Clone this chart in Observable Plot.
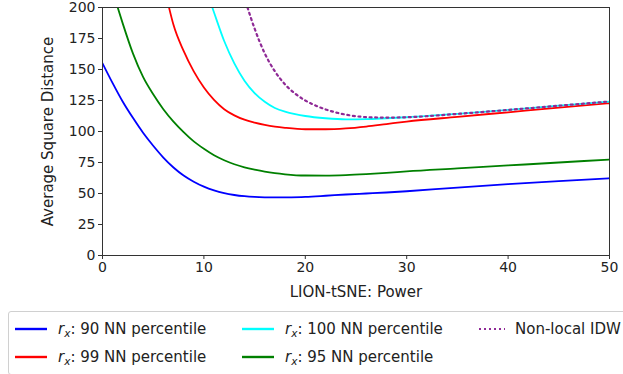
<!DOCTYPE html>
<html>
<head>
<meta charset="utf-8">
<script src="https://cdn.jsdelivr.net/npm/d3@7"></script>
<script src="https://cdn.jsdelivr.net/npm/@observablehq/plot@0.6"></script>
<style>
  body { margin: 0; background: #fff; font-family: "DejaVu Sans", sans-serif; }
  #wrap { position: relative; width: 623px; height: 374px; overflow: hidden; }
  #legend { position: absolute; left: 8px; top: 311px; width: 640px; height: 62px;
            border: 1px solid #d0d0d0; border-radius: 3px; background: #fff; }
  .item { position: absolute; font-size: 15px; color: #222; white-space: nowrap; line-height: 16px; }
  .item svg { position: absolute; left: 0; top: 3px; }
  .item span { position: absolute; left: 44px; top: 0; }
  .item.dotted span { left: 42px; }
  sub { font-size: 10.5px; vertical-align: -3px; line-height: 0; }
  #chart svg g[aria-label="x-axis label"] text, #chart svg g[aria-label="y-axis label"] text { font-size: 15px; }
</style>
</head>
<body>
<div id="wrap">
  <div id="chart"></div>
  <div id="legend"></div>
</div>
<script>
// ---- data ----
const xTicks = [0, 10, 20, 30, 40, 50];
const yTicks = [0, 25, 50, 75, 100, 125, 150, 175, 200];

const p90X = [0,1,2,3,4,5,6,7,8,9,10,11,12,13,14,15,16,17,18,20,22,24,26,28,30,35,40,45,50];
const p90Y = [155,139,124,111,99,88.5,79,71,64.5,59.5,55.5,52.5,50.3,48.8,47.8,47.2,46.9,46.8,46.9,47.3,48.2,49.2,50,50.8,51.8,54.8,57.5,60,62.3];

const p99X = [6.56,7,8,9,10,11,12,13,14,15,16,17,18,20,22,24,26,28,30,35,40,45,50];
const p99Y = [200,186,165,148.5,135.5,125.5,118,113,109.5,107.2,105.4,104,103,101.8,101.8,102.5,104,106,108,111.8,115.5,119.2,122.8];

const p100X = [10.83,11,12,13,14,15,16,17,18,19,20,22,24,26,28,30,35,40,45,50];
const p100Y = [200,196,173,155,141,131,124,119,116,114,112.5,110.7,109.8,110,110.7,111.5,114.2,117.4,120.8,124.2];

const p95X = [1.5,2,3,4,5,6,7,8,9,10,11,12,13,14,15,16,17,18,20,22,24,26,28,30,35,40,45,50];
const p95Y = [200,187,163,144,130,118,108,99.5,92,86,80.8,76.8,73.6,71.1,69.2,67.6,66.4,65.5,64.5,64.4,64.8,65.6,66.6,67.8,70.2,72.6,75,77.4];

const idwX = [14.3,15,16,17,18,19,20,21,22,23,24,26,28,30,35,40,45,50];
const idwY = [200,183,163,148.5,138,130.5,125,121,117.8,115.4,113.6,111.6,111.2,111.5,114.2,117.4,120.8,124.2];

const seriesNames = ["90 NN percentile", "99 NN percentile", "100 NN percentile", "95 NN percentile", "Non-local IDW"];
const seriesColors = ["#0000ff", "#ff0000", "#00ffff", "#008000", "#8f2a96"];

// ---- build tables ----
const toRows = (xs, ys) => xs.map((x, i) => ({x, y: ys[i]}));
const solid = [
  {rows: toRows(p90X, p90Y), color: seriesColors[0]},
  {rows: toRows(p99X, p99Y), color: seriesColors[1]},
  {rows: toRows(p100X, p100Y), color: seriesColors[2]},
  {rows: toRows(p95X, p95Y), color: seriesColors[3]}
];
const idw = toRows(idwX, idwY);

const chart = Plot.plot({
  width: 623,
  height: 305,
  marginLeft: 102,
  marginRight: 14,
  marginTop: 7,
  marginBottom: 50,
  style: {fontFamily: "DejaVu Sans", fontSize: "14px", color: "#222", background: "transparent"},
  x: {domain: [0, 50]},
  y: {domain: [0, 200]},
  marks: [
    ...solid.map(s => Plot.line(s.rows, {x: "x", y: "y", stroke: s.color, strokeWidth: 1.8, curve: "monotone-x", clip: true})),
    Plot.line(idw, {x: "x", y: "y", stroke: seriesColors[4], strokeWidth: 2.2, strokeDasharray: "2,3.6", curve: "monotone-x", clip: true}),
    Plot.frame({stroke: "#333", strokeWidth: 1}),
    Plot.axisX({ticks: xTicks, tickSize: 4, tickPadding: 3, stroke: "#333", label: "LION-tSNE: Power", labelAnchor: "center", labelOffset: 41, labelArrow: "none"}),
    Plot.axisY({ticks: yTicks, tickSize: 4, tickPadding: 3, stroke: "#333", label: "Average Square Distance", labelAnchor: "center", labelOffset: 60, labelArrow: "none"})
  ]
});
document.getElementById("chart").appendChild(chart);

// ---- legend ----
const legendPos = [[5, 9], [5, 37], [232, 9], [232, 37], [464, 9]];
const legend = document.getElementById("legend");
seriesNames.forEach((name, i) => {
  const [lx, ly] = legendPos[i];
  const div = document.createElement("div");
  const dashed = i === 4;
  div.className = dashed ? "item dotted" : "item";
  div.style.left = lx + "px";
  div.style.top = ly + "px";
  div.innerHTML =
    `<svg width="36" height="10"><line x1="${dashed ? 6 : 1}" x2="${dashed ? 32 : 33}" y1="5" y2="5" stroke="${seriesColors[i]}" stroke-width="${dashed ? 2 : 2.4}" ${dashed ? 'stroke-dasharray="2,3"' : ''}/></svg>` +
    `<span>${dashed ? name : `<i>r</i><sub><i>x</i></sub>: ${name}`}</span>`;
  legend.appendChild(div);
});
</script>
</body>
</html>
